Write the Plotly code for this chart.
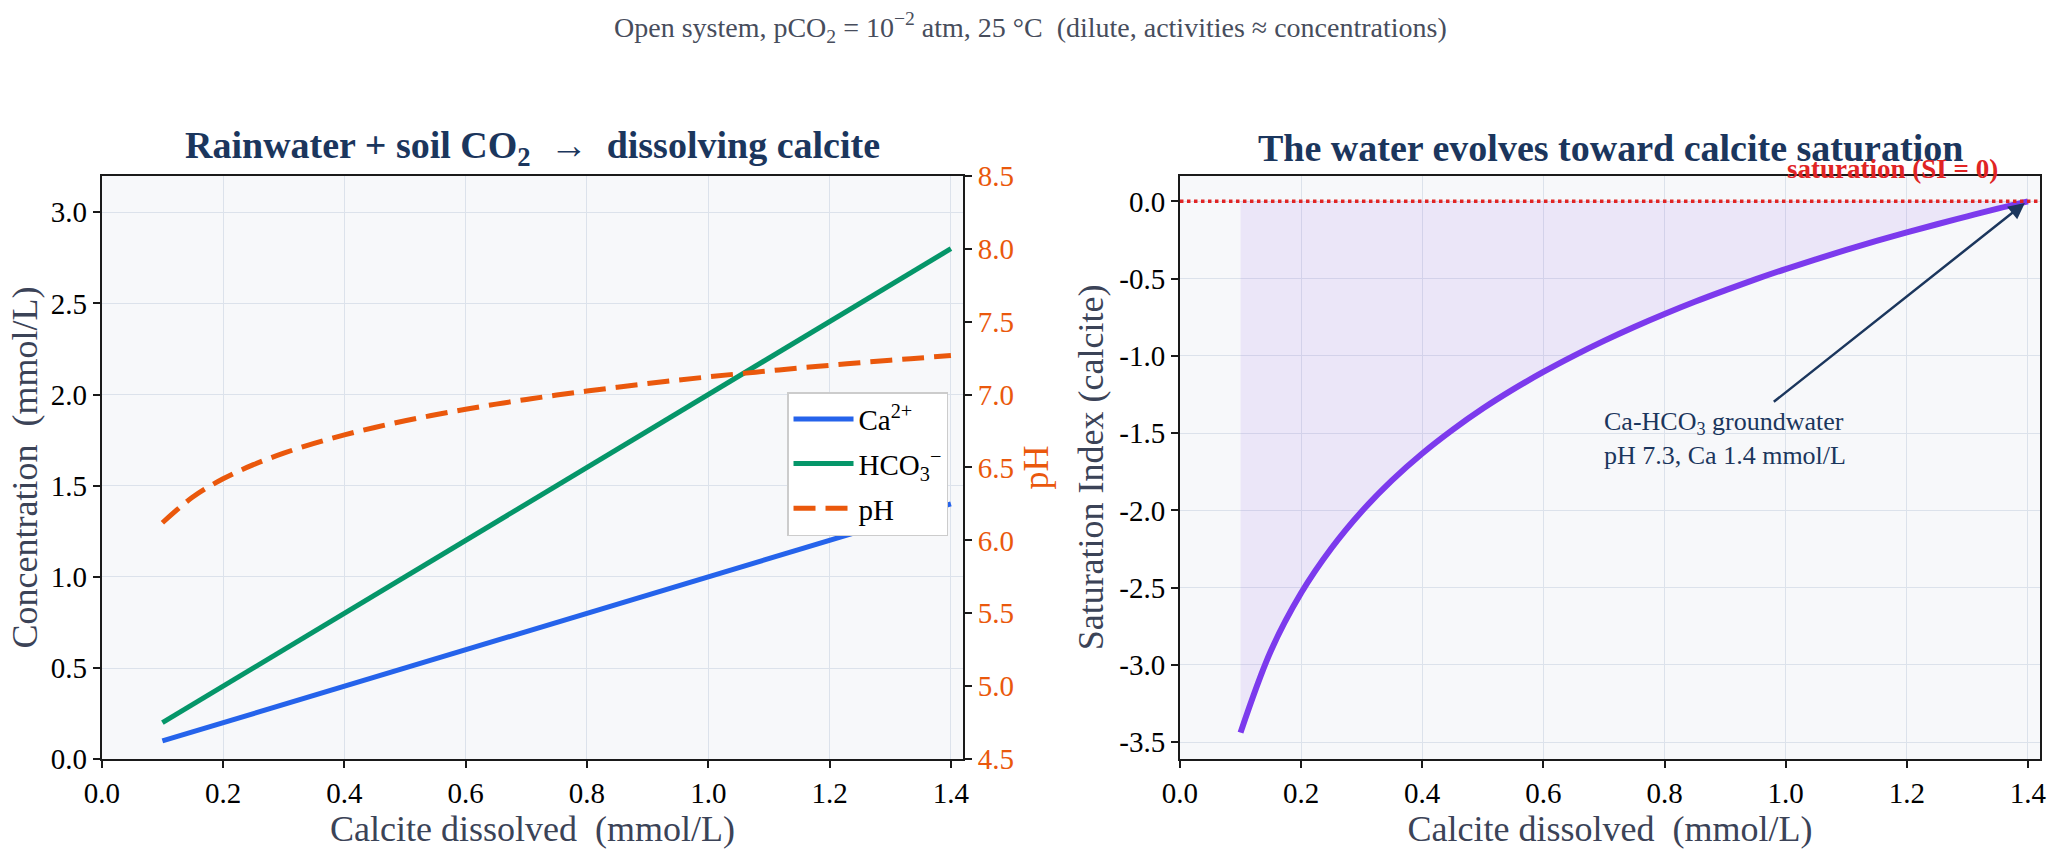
import plotly.graph_objects as go

# ---------------- data ----------------
calcite = [0.10, 0.15, 0.20, 0.25, 0.30, 0.35, 0.40, 0.45, 0.50, 0.55, 0.60, 0.65, 0.70,
           0.75, 0.80, 0.85, 0.90, 0.95, 1.00, 1.05, 1.10, 1.15, 1.20, 1.25, 1.30, 1.35, 1.40]
ca_mmol = [0.10, 0.15, 0.20, 0.25, 0.30, 0.35, 0.40, 0.45, 0.50, 0.55, 0.60, 0.65, 0.70,
           0.75, 0.80, 0.85, 0.90, 0.95, 1.00, 1.05, 1.10, 1.15, 1.20, 1.25, 1.30, 1.35, 1.40]
hco3_mmol = [0.20, 0.30, 0.40, 0.50, 0.60, 0.70, 0.80, 0.90, 1.00, 1.10, 1.20, 1.30, 1.40,
             1.50, 1.60, 1.70, 1.80, 1.90, 2.00, 2.10, 2.20, 2.30, 2.40, 2.50, 2.60, 2.70, 2.80]
ph_vals = [6.121, 6.297, 6.422, 6.519, 6.598, 6.665, 6.723, 6.774, 6.820, 6.861, 6.899,
           6.934, 6.966, 6.996, 7.024, 7.050, 7.075, 7.099, 7.121, 7.142, 7.162, 7.182,
           7.200, 7.218, 7.235, 7.251, 7.267]
si_vals = [-3.438, -2.910, -2.535, -2.245, -2.007, -1.806, -1.632, -1.479, -1.341, -1.217,
           -1.104, -1.000, -0.903, -0.813, -0.729, -0.650, -0.576, -0.505, -0.438, -0.375,
           -0.314, -0.256, -0.201, -0.148, -0.097, -0.047, 0.000]

x_ticks = [0.0, 0.2, 0.4, 0.6, 0.8, 1.0, 1.2, 1.4]
conc_ticks = [0.0, 0.5, 1.0, 1.5, 2.0, 2.5, 3.0]
ph_ticks = [4.5, 5.0, 5.5, 6.0, 6.5, 7.0, 7.5, 8.0, 8.5]
si_ticks = [-3.5, -3.0, -2.5, -2.0, -1.5, -1.0, -0.5, 0.0]
si_ticktext = ["-3.5", "-3.0", "-2.5", "-2.0", "-1.5", "-1.0", "-0.5", "0.0"]

# ---------------- style ----------------
FONT = "Liberation Serif"
NAVY = "#1b365d"
BLUE = "#2563eb"
GREEN = "#059669"
ORANGE = "#ea580c"
PURPLE = "#7c3aed"
RED = "#e02424"
AXTITLE = "#3b4357"
GRID = "#dce2eb"
BG = "#f7f8fa"
SPINE = "#1a1a1a"
TICK = 29
AXT = 36

fig = go.Figure()

fig.add_trace(go.Scatter(x=calcite, y=ca_mmol, mode="lines", name="Ca<sup>2+</sup>",
                         legendgroup="a", line=dict(color=BLUE, width=5), xaxis="x", yaxis="y"))
fig.add_trace(go.Scatter(x=calcite, y=hco3_mmol, mode="lines", name="HCO<sub>3</sub><sup>−</sup>",
                         legendgroup="b", line=dict(color=GREEN, width=5), xaxis="x", yaxis="y"))
fig.add_trace(go.Scatter(x=calcite, y=ph_vals, mode="lines", name="pH", legendgroup="c",
                         line=dict(color=ORANGE, width=5, dash="22px,10px", shape="spline"),
                         xaxis="x", yaxis="y3"))
fig.add_trace(go.Scatter(x=calcite, y=si_vals, mode="lines", showlegend=False,
                         fill="tozeroy", fillcolor="rgba(124,58,237,0.09)",
                         line=dict(color=PURPLE, width=6, shape="spline"),
                         xaxis="x2", yaxis="y2"))

tickfont = dict(family=FONT, size=TICK, color="black")
axis_common = dict(showline=True, linecolor=SPINE, linewidth=2, ticks="outside",
                   ticklen=7, tickwidth=2, tickcolor=SPINE, showgrid=True,
                   gridcolor=GRID, gridwidth=1, zeroline=False, tickfont=tickfont,
                   automargin=False)

fig.update_layout(
    width=2060, height=853,
    margin=dict(l=0, r=0, t=0, b=0),
    paper_bgcolor="white", plot_bgcolor=BG,
    font=dict(family=FONT, color="black"),
    xaxis=dict(domain=[0.0494, 0.4675], range=[0, 1.42], anchor="y", mirror=True,
               tickvals=x_ticks, tickformat=".1f",
               title=dict(text="Calcite dissolved\u00a0\u00a0(mmol/L)", standoff=0,
                          font=dict(family=FONT, size=AXT, color=AXTITLE)),
               **axis_common),
    yaxis=dict(domain=[0.110, 0.794], range=[0, 3.2], anchor="x",
               tickvals=conc_ticks, tickformat=".1f",
               title=dict(text="Concentration\u00a0\u00a0(mmol/L)", standoff=2,
                          font=dict(family=FONT, size=AXT, color=AXTITLE)),
               **axis_common),
    yaxis3=dict(overlaying="y", side="right", anchor="x", range=[4.5, 8.5],
                tickvals=ph_ticks, tickformat=".1f", showline=True, linecolor=SPINE,
                linewidth=2, ticks="outside", ticklen=7, tickwidth=2, tickcolor=SPINE,
                showgrid=False, zeroline=False, automargin=False,
                tickfont=dict(family=FONT, size=TICK, color=ORANGE),
                title=dict(text="pH", standoff=10,
                           font=dict(family=FONT, size=AXT, color=ORANGE))),
    xaxis2=dict(domain=[0.5728, 0.9903], range=[0, 1.42], anchor="y2", mirror=True,
                tickvals=x_ticks, tickformat=".1f",
                title=dict(text="Calcite dissolved\u00a0\u00a0(mmol/L)", standoff=0,
                           font=dict(family=FONT, size=AXT, color=AXTITLE)),
                **axis_common),
    yaxis2=dict(domain=[0.110, 0.794], range=[-3.61, 0.166], anchor="x2", mirror=True,
                tickvals=si_ticks, ticktext=si_ticktext,
                title=dict(text="Saturation Index (calcite)", standoff=5,
                           font=dict(family=FONT, size=AXT, color=AXTITLE)),
                **axis_common),
    legend=dict(x=0.4602, y=0.456, xanchor="right", yanchor="middle",
                bgcolor="white", bordercolor="#cccccc", borderwidth=1.5,
                font=dict(family=FONT, size=TICK, color="black"),
                itemwidth=60, tracegroupgap=4),
    showlegend=True,
)

# saturation line
fig.add_shape(type="line", xref="x2 domain", yref="y2", x0=0, x1=1, y0=0, y1=0,
              line=dict(color=RED, width=3.5, dash="dot"), layer="above")

annotations = [
    dict(text="Open system, pCO<sub>2</sub> = 10<sup>−2</sup> atm, 25 °C\u00a0\u00a0(dilute, activities ≈ concentrations)",
         xref="paper", yref="paper", x=0.5, y=0.968, xanchor="center", yanchor="middle",
         showarrow=False, font=dict(family=FONT, size=28, color="#474d5c")),
    dict(text="<b>Rainwater + soil CO<sub>2</sub>\u00a0\u00a0→\u00a0\u00a0dissolving calcite</b>",
         xref="paper", yref="paper", x=0.2584, y=0.826, xanchor="center", yanchor="middle",
         showarrow=False, font=dict(family=FONT, size=38, color=NAVY)),
    dict(text="<b>The water evolves toward calcite saturation</b>",
         xref="paper", yref="paper", x=0.7816, y=0.826, xanchor="center", yanchor="middle",
         showarrow=False, font=dict(family=FONT, size=38, color=NAVY)),
    dict(text="<b>saturation (SI = 0)</b>", xref="x2", yref="y2 domain", x=1.177, y=1.012,
         xanchor="center", yanchor="middle", showarrow=False,
         font=dict(family=FONT, size=27, color=RED)),
    dict(text="", xref="x2", yref="y2", x=1.395, y=-0.01, axref="x2", ayref="y2",
         ax=0.978, ay=-1.305, showarrow=True, arrowhead=2, arrowsize=1.3,
         arrowwidth=2.5, arrowcolor=NAVY, standoff=0, startstandoff=0),
    dict(text="Ca-HCO<sub>3</sub> groundwater<br>pH 7.3, Ca 1.4 mmol/L", xref="x2", yref="y2",
         x=0.697, y=-1.318, xanchor="left", yanchor="top", align="left", showarrow=False,
         font=dict(family=FONT, size=26, color=NAVY)),
]
fig.update_layout(annotations=annotations)

fig.write_html("out.html", config={"displayModeBar": False},
               post_script="document.body.style.margin='0';document.body.style.overflow='hidden';")
